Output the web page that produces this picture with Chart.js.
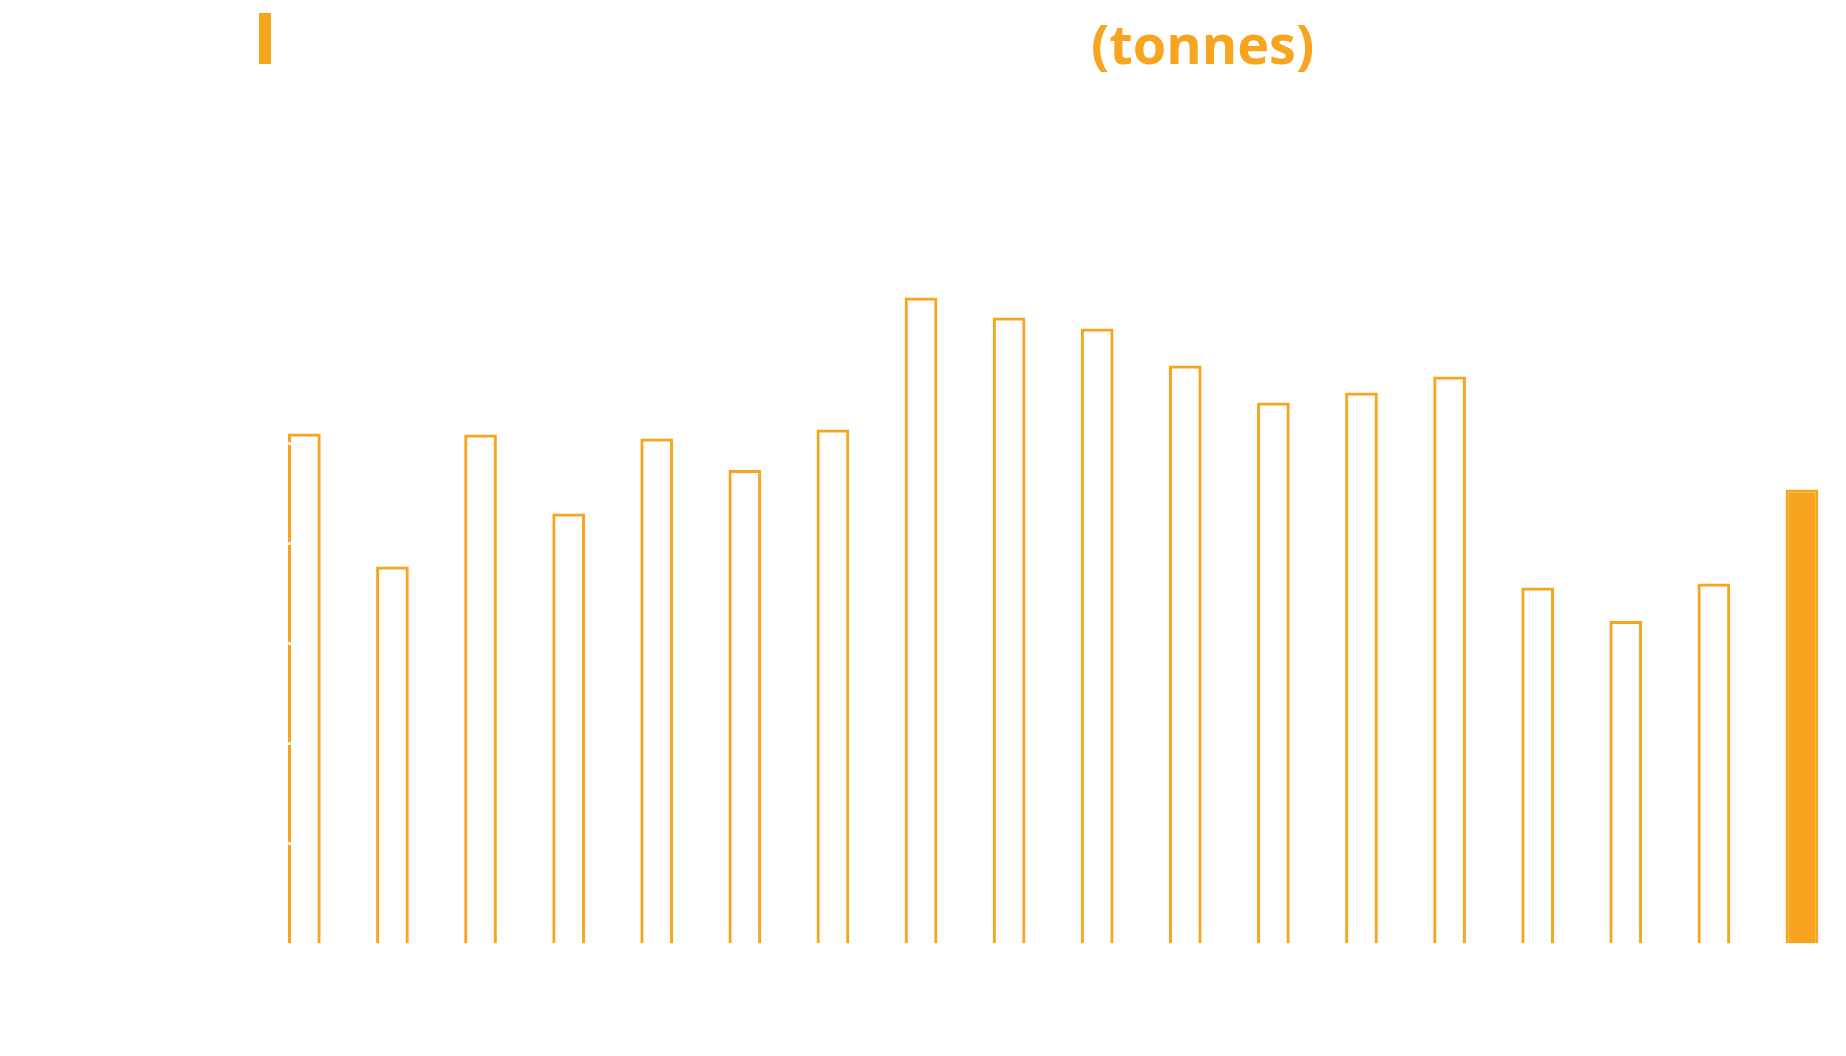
<!DOCTYPE html>
<html>
<head>
<meta charset="utf-8">
<script src="https://cdn.jsdelivr.net/npm/chart.js@4"></script>
<style>
    html, body { margin: 0; padding: 0; background: #ffffff; }
    #wrap { width: 1846px; height: 1056px; position: relative; }
</style>
</head>
<body>
<div id="wrap"><canvas id="chart"></canvas></div>
<script>
// data
const years = ['2005', '2006', '2007', '2008', '2009', '2010', '2011', '2012', '2013',
    '2014', '2015', '2016', '2017', '2018', '2019', '2020', '2021', '2022'];
const tonnes = [102000, 75400, 101800, 86000, 101000, 94700, 102800, 129200, 125200,
    123000, 115600, 108200, 110200, 113400, 71200, 64500, 72000, 90800];
const yTicks = [0, 20000, 40000, 60000, 80000, 100000, 120000, 140000];
const unitLabel = '(tonnes)';

const ORANGE = '#F7A51E';
const WHITE = '#ffffff';

// last year drawn solid, the rest as outlines
const fills = tonnes.map((v, i) => i === tonnes.length - 1 ? ORANGE : 'rgba(0,0,0,0)');

// orange marker and unit text at the top
const headerPlugin = {
    id: 'header',
    afterDraw(chart) {
        const ctx = chart.ctx;
        ctx.save();
        ctx.fillStyle = ORANGE;
        ctx.fillRect(259, 13, 12, 51);
        ctx.font = 'bold 54px "Open Sans"';
        ctx.textBaseline = 'alphabetic';
        ctx.fillText(unitLabel, 1091, 63.5);
        ctx.restore();
    }
};

// white tick marks of the y axis cross the first bar's left edge
const tickMarksPlugin = {
    id: 'tickMarks',
    afterDatasetsDraw(chart) {
        const bar = chart.getDatasetMeta(0).data[0];
        if (!bar) return;
        const y = chart.scales.y;
        const x0 = bar.x - bar.width / 2;
        const ctx = chart.ctx;
        ctx.save();
        ctx.fillStyle = WHITE;
        y.ticks.forEach(t => {
            const py = y.getPixelForValue(t.value);
            if (py < bar.y + 4 || py > y.bottom - 2) return;
            ctx.fillRect(x0, py - 1.3, 3.4, 2.6);
        });
        ctx.restore();
    }
};

new Chart(document.getElementById('chart'), {
    type: 'bar',
    data: {
        labels: years,
        datasets: [{
            label: unitLabel,
            data: tonnes,
            backgroundColor: fills,
            borderColor: ORANGE,
            borderWidth: 3,
            categoryPercentage: 1,
            barPercentage: 0.371
        }]
    },
    options: {
        responsive: true,
        maintainAspectRatio: false,
        animation: false,
        layout: { padding: { top: 243.5, left: 0, right: 0, bottom: 0 } },
        plugins: {
            legend: { display: false },
            tooltip: { enabled: false }
        },
        scales: {
            x: {
                grid: { display: false },
                border: { display: false },
                ticks: { color: WHITE, font: { family: 'Open Sans', size: 18 } },
                afterFit: (scale) => { scale.height = 112.5; }
            },
            y: {
                min: yTicks[0],
                max: yTicks[yTicks.length - 1],
                afterBuildTicks: (scale) => { scale.ticks = yTicks.map(v => ({ value: v })); },
                grid: { display: false },
                border: { display: false },
                ticks: { color: WHITE, font: { family: 'Open Sans', size: 18 } },
                afterFit: (scale) => { scale.width = 260.3; }
            }
        }
    },
    plugins: [headerPlugin, tickMarksPlugin]
});
</script>
</body>
</html>
